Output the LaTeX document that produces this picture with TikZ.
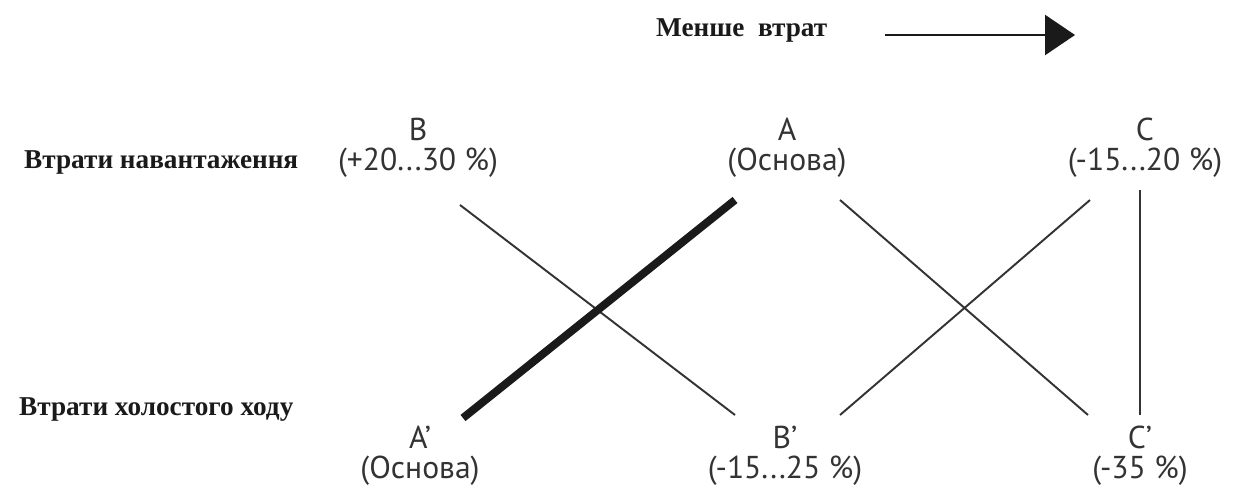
\documentclass[tikz,border=0pt]{standalone}
\usepackage{fontspec}
\setmainfont{Liberation Serif}
\newfontfamily\labelfont{PT Sans}
\usetikzlibrary{arrows.meta, positioning}
\definecolor{ink}{HTML}{1A1A1A}
\definecolor{graphite}{HTML}{333333}

\tikzset{
  caption/.style={font=\fontsize{15.5}{18}\selectfont\bfseries, text=ink, anchor=west},
  variant/.style={font=\labelfont\fontsize{18}{17}\selectfont, text=graphite, align=center},
  trade/.style={draw=graphite, line width=1.1pt},
  base/.style={draw=ink, line width=4.5pt},
}

\begin{document}
\begin{tikzpicture}[x=0.02cm, y=-0.02cm]
\useasboundingbox (0,0) rectangle (1243,497);
% Header arrow
\node[caption] (less) at (650,30) {Менше\ \ втрат};
\coordinate (arrowStart) at (885,35);
\coordinate (arrowTip) at (1075,35);
\draw[ink, line width=1.4pt, -{Triangle[length=0.6cm, width=0.8cm]}] (arrowStart) -- (arrowTip);
%
% Row captions
\node[caption] (loadLoss) at (18,162) {Втрати навантаження};
\node[caption] (idleLoss) at (13,410) {Втрати холостого ходу};
%
% Load-loss variants
\node[variant] (B) at (418,148) {B\\(+20...30 \%)};
\node[variant] (A) at (787,148) {A\\(Основа)};
\node[variant] (C) at (1145,148) {C\\(-15...20 \%)};
%
% Idle-loss variants
\node[variant] (Ap) at (420,456) {A’\\(Основа)};
\node[variant] (Bp) at (785,456) {B’\\(-15...25 \%)};
\node[variant] (Cp) at (1140,456) {C’\\(-35 \%)};
%
% Line ends
\coordinate (Bdown) at (460,205);
\coordinate (Bpup) at (735,415);
\coordinate (Adown) at (735,200);
\coordinate (Apup) at (463,418);
\coordinate (Adown2) at (840,200);
\coordinate (Cpup) at (1088,415);
\coordinate (Bpup2) at (840,415);
\coordinate (Cdown) at (1090,200);
\coordinate (Cdown2) at (1140,190);
\coordinate (Cpup2) at (1140,415);
%
\draw[trade] (Bdown) -- (Bpup);
\draw[base] (Apup) -- (Adown);
\draw[trade] (Adown2) -- (Cpup);
\draw[trade] (Bpup2) -- (Cdown);
\draw[trade] (Cdown2) -- (Cpup2);
\end{tikzpicture}
\end{document}
